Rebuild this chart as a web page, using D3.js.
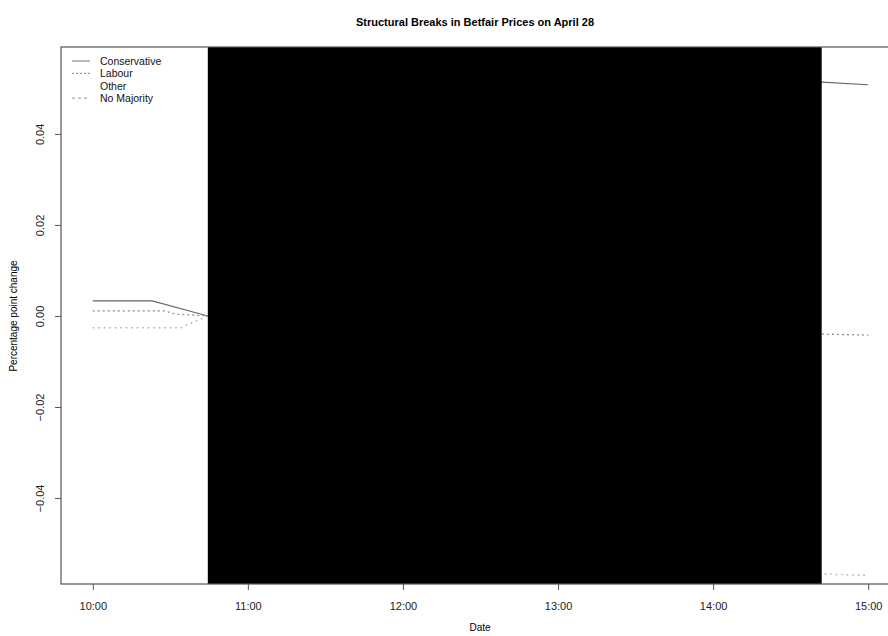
<!DOCTYPE html>
<html><head><meta charset="utf-8">
<script src="https://cdn.jsdelivr.net/npm/d3@7"></script>
<style>body{margin:0;background:#fff;} svg{display:block;font-family:"Liberation Sans",Arial,sans-serif;}</style>
</head><body><svg id="c" width="888" height="636"></svg>
<script>
const seriesNames = ["Conservative","Labour","Other","No Majority"];
// times as minutes after 10:00
const conTimes = [0, 23, 44.5, 282, 300];
const conValues = [0.0033, 0.0033, 0, 0.0514, 0.0508];
const labTimes = [0, 28, 32, 44.5, 282, 300];
const labValues = [0.0011, 0.0011, 0.0004, 0, -0.0040, -0.0042];
const othTimes = [0, 34, 44.5, 282, 300];
const othValues = [-0.0026, -0.0026, 0, -0.0567, -0.0570];
const breakStart = 44.5, breakEnd = 282;
const xTickLabels = ["10:00","11:00","12:00","13:00","14:00","15:00"];
const xTickMinutes = [0,60,120,180,240,300];
const yTicks = [-0.04,-0.02,0,0.02,0.04];

const svg = d3.select("#c");
const L=61, R=900, T=47, B=584;
const x = d3.scaleLinear().domain([-12.3, 312.3]).range([L,R]);
const y = d3.scaleLinear().domain([-0.0589,0.0591]).range([B,T]);

svg.append("text").attr("x",475).attr("y",26).attr("text-anchor","middle")
  .attr("font-size",11).attr("font-weight","bold").text("Structural Breaks in Betfair Prices on April 28");

const mk = (t,v)=>t.map((d,i)=>({t:d,v:v[i]}));
const line = d3.line().x(d=>x(d.t)).y(d=>y(d.v));
const styles = [
  {data:mk(conTimes,conValues), stroke:"#666", dash:null, w:1.2},
  {data:mk(labTimes,labValues), stroke:"#888", dash:"2,3", w:1.2},
  {data:mk(othTimes,othValues), stroke:"#aaa", dash:"1.5,4", w:1.5}
];
styles.forEach(s=>{
  svg.append("path").attr("d",line(s.data)).attr("fill","none").attr("stroke",s.stroke)
    .attr("stroke-width",s.w).attr("stroke-dasharray",s.dash);
});

svg.append("rect").attr("x",x(breakStart)).attr("y",T).attr("width",x(breakEnd)-x(breakStart))
  .attr("height",B-T).attr("fill","#000");

svg.append("rect").attr("x",L).attr("y",T).attr("width",R-L).attr("height",B-T)
  .attr("fill","none").attr("stroke","#555").attr("stroke-width",1.2);

const xa = svg.append("g").attr("transform",`translate(0,${B})`)
  .call(d3.axisBottom(x).tickValues(xTickMinutes).tickFormat((d,i)=>xTickLabels[i]).tickSize(6).tickPadding(12));
xa.select(".domain").remove();
xa.selectAll("line").attr("stroke","#555");
xa.selectAll("text").attr("font-size",11).attr("fill","#222").style("font-family","Liberation Sans, Arial");

const ya = svg.append("g").attr("transform",`translate(${L},0)`)
  .call(d3.axisLeft(y).tickValues(yTicks).tickFormat(d=>d3.format(".2f")(d).replace("-","\u2212")).tickSize(6));
ya.select(".domain").remove();
ya.selectAll("line").attr("stroke","#555");
ya.selectAll("text").attr("font-size",11).attr("fill","#222").style("font-family","Liberation Sans, Arial")
  .attr("text-anchor","middle").attr("x",-21).attr("y",0).attr("dy","0.35em")
  .attr("transform","rotate(-90,-21,0)");

svg.append("text").attr("x",480).attr("y",631).attr("text-anchor","middle").attr("font-size",10).text("Date");
svg.append("text").attr("transform","translate(17,316) rotate(-90)").attr("text-anchor","middle")
  .attr("font-size",10).text("Percentage point change");

const legStyles = [
  {stroke:"#888", dash:null},
  {stroke:"#999", dash:"2,2"},
  {stroke:"#fff", dash:null},
  {stroke:"#aaa", dash:"3,3"}
];
seriesNames.forEach((n,i)=>{
  const yy = 61 + i*12.4;
  svg.append("line").attr("x1",72).attr("x2",90).attr("y1",yy).attr("y2",yy)
    .attr("stroke",legStyles[i].stroke).attr("stroke-width",1.2).attr("stroke-dasharray",legStyles[i].dash);
  svg.append("text").attr("x",100).attr("y",yy+4).attr("font-size",10.5).attr("fill","#111").text(n);
});
</script></body></html>
